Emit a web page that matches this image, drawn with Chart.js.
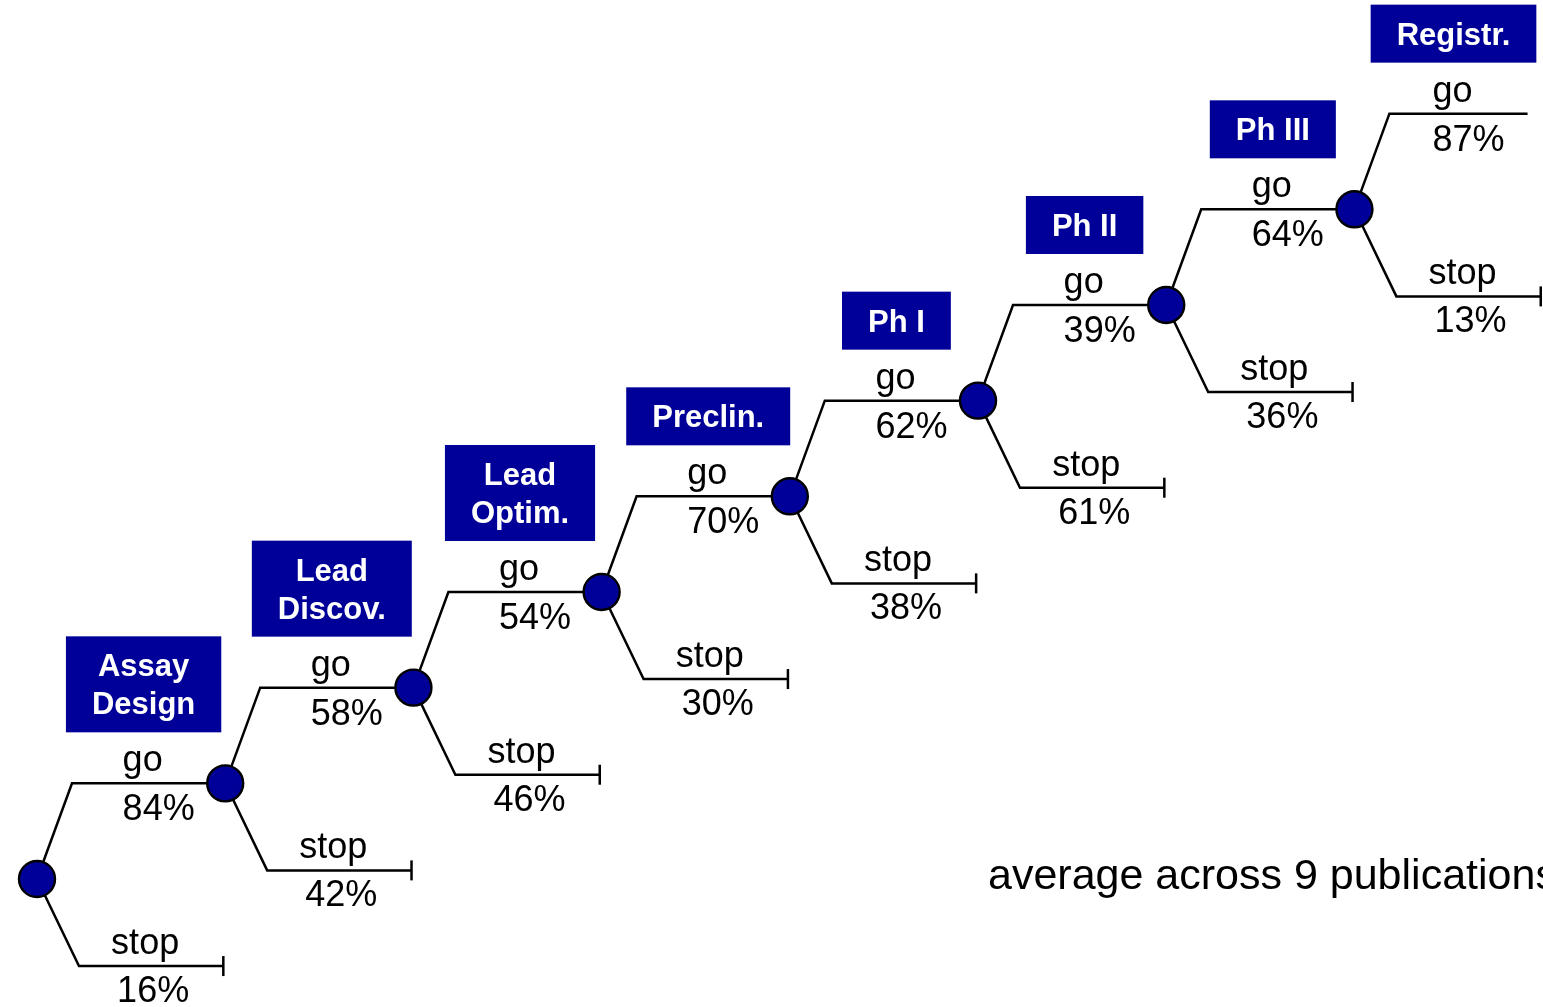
<!DOCTYPE html>
<html>
<head>
<meta charset="utf-8">
<title>Drug discovery decision tree</title>
<script src="https://cdn.jsdelivr.net/npm/chart.js@4/dist/chart.umd.min.js"></script>
<style>
  html, body { margin: 0; padding: 0; background: #ffffff; }
  #wrap { width: 1543px; height: 1007px; position: relative; }
</style>
</head>
<body>
<div id="wrap"><canvas id="tree"></canvas></div>
<script>
// Stages of the pipeline (label of the "go" branch leaving each decision node)
const stages = [
  ['Assay', 'Design'],
  ['Lead', 'Discov.'],
  ['Lead', 'Optim.'],
  ['Preclin.'],
  ['Ph I'],
  ['Ph II'],
  ['Ph III'],
  ['Registr.']
];
// Probability of continuing / stopping at each decision node (%)
const goPct   = [84, 58, 54, 70, 62, 39, 64, 87];
const stopPct = [16, 42, 46, 30, 38, 61, 36, 13];
const branchWords = ['go', 'stop'];
const note = 'average across 9 publications';

// Tree geometry in axis units: node i sits at (i, i)
const GO_DX = 0.186;      // horizontal run of the rising "go" stroke
const STOP_DX = 0.223;    // horizontal run of the falling "stop" stroke
const STOP_DY = 0.91;     // drop of the "stop" branch
const STOP_END = 0.99;    // length of the stop branch
const LAST_GO_END = 0.92; // length of the final "go" branch

const NAVY = '#000099';
const FONT = '"Liberation Sans", Arial, Helvetica, sans-serif';
const LINE_W = 2.5;

const n = goPct.length;
const datasets = [];

// decision nodes
datasets.push({
  label: 'nodes',
  data: goPct.map((_, i) => ({ x: i, y: i })),
  showLine: false,
  pointRadius: 18,
  pointBackgroundColor: NAVY,
  pointBorderColor: '#000000',
  pointBorderWidth: 2.4,
  order: 0
});

// branches
goPct.forEach((_, i) => {
  const end = i < n - 1 ? i + 1 : i + LAST_GO_END;
  datasets.push({
    label: 'go ' + i,
    data: [{ x: i, y: i }, { x: i + GO_DX, y: i + 1 }, { x: end, y: i + 1 }],
    showLine: true,
    borderColor: '#000000',
    borderWidth: LINE_W,
    pointRadius: 0,
    tension: 0,
    order: 2
  });
  datasets.push({
    label: 'stop ' + i,
    data: [{ x: i, y: i }, { x: i + STOP_DX, y: i - STOP_DY }, { x: i + STOP_END, y: i - STOP_DY }],
    showLine: true,
    borderColor: '#000000',
    borderWidth: LINE_W,
    pointRadius: 0,
    tension: 0,
    order: 2
  });
});

// end bars on the stop branches
datasets.push({
  label: 'stop ends',
  data: stopPct.map((_, i) => ({ x: i + STOP_END, y: i - STOP_DY })),
  showLine: false,
  pointStyle: 'line',
  rotation: 90,
  pointRadius: 10,
  pointBorderColor: '#000000',
  pointBorderWidth: LINE_W,
  order: 1
});

// text: stage boxes, branch words and percentages
const treeLabels = {
  id: 'treeLabels',
  afterDatasetsDraw(chart) {
    const { ctx, scales: { x, y } } = chart;
    ctx.save();
    ctx.textBaseline = 'alphabetic';

    for (let i = 0; i < n; i++) {
      const goY = y.getPixelForValue(i + 1);
      const goX0 = x.getPixelForValue(i + GO_DX);
      const goX1 = x.getPixelForValue(i < n - 1 ? i + 1 : i + LAST_GO_END);
      const goMid = (goX0 + goX1) / 2;

      // stage box
      ctx.font = 'bold 31px ' + FONT;
      const lines = stages[i];
      const tw = Math.max(...lines.map(t => ctx.measureText(t).width));
      const bw = tw + 52;
      const bh = lines.length * 38 + 20;
      const bcx = goMid - 5;
      const bBottom = goY - 51;
      ctx.fillStyle = NAVY;
      ctx.fillRect(bcx - bw / 2, bBottom - bh, bw, bh);
      ctx.fillStyle = '#ffffff';
      ctx.textAlign = 'center';
      lines.forEach((t, k) => {
        ctx.fillText(t, bcx, bBottom - 18 - (lines.length - 1 - k) * 38);
      });

      // go branch text
      ctx.font = '36px ' + FONT;
      ctx.fillStyle = '#000000';
      ctx.textAlign = 'left';
      ctx.fillText(branchWords[0], goMid - 26, goY - 12);
      ctx.fillText(goPct[i] + '%', goMid - 26, goY + 37);

      // stop branch text
      const sY = y.getPixelForValue(i - STOP_DY);
      const sX0 = x.getPixelForValue(i + STOP_DX);
      const sX1 = x.getPixelForValue(i + STOP_END);
      const sMid = (sX0 + sX1) / 2;
      ctx.textAlign = 'center';
      ctx.fillText(branchWords[1], sMid - 6, sY - 12);
      ctx.fillText(stopPct[i] + '%', sMid + 2, sY + 36);
    }

    // footnote
    ctx.font = '43px ' + FONT;
    ctx.textAlign = 'left';
    ctx.fillStyle = '#000000';
    ctx.fillText(note, 988, 889);
    ctx.restore();
  }
};

new Chart(document.getElementById('tree'), {
  type: 'scatter',
  data: { datasets },
  options: {
    responsive: true,
    maintainAspectRatio: false,
    animation: false,
    events: [],
    layout: { padding: 0, autoPadding: false },
    plugins: {
      legend: { display: false },
      tooltip: { enabled: false },
      title: { display: false }
    },
    scales: {
      x: { type: 'linear', display: false, min: -0.1966, max: 8.002 },
      y: { type: 'linear', display: false, min: -1.338, max: 9.188 }
    }
  },
  plugins: [treeLabels]
});
</script>
</body>
</html>
